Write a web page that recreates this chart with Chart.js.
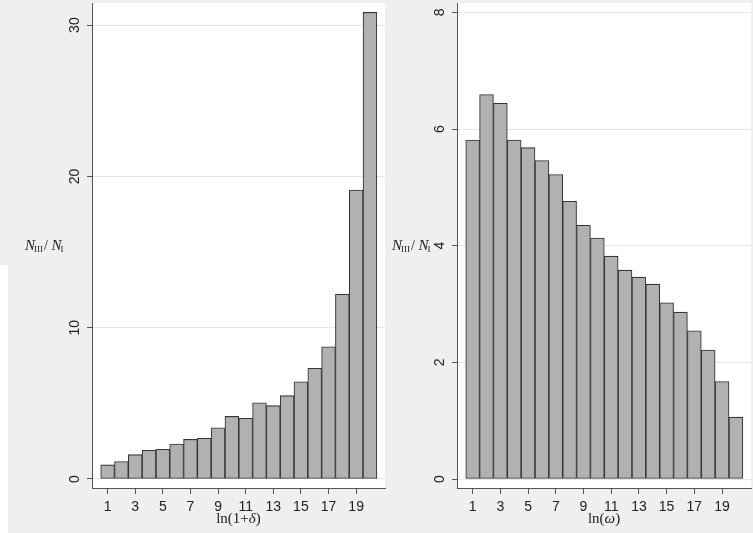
<!DOCTYPE html>
<html>
<head>
<meta charset="utf-8">
<script src="https://cdn.jsdelivr.net/npm/chart.js@4/dist/chart.umd.min.js"></script>
<style>
  html, body { margin: 0; padding: 0; background: #ffffff; }
  #wrap { position: relative; width: 753px; height: 533px; background: #efefef; overflow: hidden; }
  #strip { position: absolute; left: 0; top: 265px; width: 8px; height: 268px; background: #ffffff; }
  canvas { position: absolute; top: 0; }
  #left { left: 8px; }
  #right { left: 388px; }
</style>
</head>
<body>
<div id="wrap">
  <div id="strip"></div>
  <canvas id="left" width="380" height="533"></canvas>
  <canvas id="right" width="365" height="533"></canvas>
</div>
<script>
// Bins shared by both panels
const categories = [1, 2, 3, 4, 5, 6, 7, 8, 9, 10, 11, 12, 13, 14, 15, 16, 17, 18, 19, 20];
const xTickLabels = [1, 3, 5, 7, 9, 11, 13, 15, 17, 19];

// Ratio N_III / N_I by ln(1+delta)
const ratioByDelta = [0.93, 1.15, 1.61, 1.90, 1.96, 2.31, 2.62, 2.69, 3.39, 4.14,
                      4.01, 5.04, 4.85, 5.51, 6.43, 7.32, 8.74, 12.21, 19.10, 30.84];
const deltaYTicks = [0, 10, 20, 30];

// Ratio N_III / N_I by ln(omega)
const ratioByOmega = [5.81, 6.59, 6.44, 5.81, 5.68, 5.46, 5.22, 4.76, 4.35, 4.13,
                      3.82, 3.58, 3.46, 3.34, 3.02, 2.86, 2.54, 2.21, 1.67, 1.06];
const omegaYTicks = [0, 2, 4, 6, 8];

const AXIS = '#555555';
const TEXT = '#222222';
const SERIF = '"Liberation Serif", "DejaVu Serif", serif';
const SANS = '"Liberation Sans", Arial, sans-serif';

// Draws "N_III / N_I" with italic N and small upright subscripts
function drawRatioTitle(ctx, x, yMid) {
  ctx.save();
  ctx.fillStyle = TEXT;
  ctx.textAlign = 'left';
  ctx.textBaseline = 'alphabetic';
  const base = yMid + 5;
  let cx = x;
  const part = (txt, font, dy, gap) => {
    ctx.font = font;
    ctx.fillText(txt, cx, base + dy);
    cx += ctx.measureText(txt).width + (gap || 0);
  };
  part('N', 'italic 15px ' + SERIF, 0, -1);
  part('III', '9px ' + SERIF, 2, 1);
  part('/ ', '14px ' + SERIF, 0);
  part('N', 'italic 15px ' + SERIF, 0, -1);
  part('I', '9px ' + SERIF, 2);
  ctx.restore();
}

// Draws an x title like "ln(1+δ)" where the Greek letter is italic
function drawXTitle(ctx, cxMid, yMid, pre, greek, post) {
  ctx.save();
  ctx.fillStyle = TEXT;
  ctx.textBaseline = 'middle';
  ctx.textAlign = 'left';
  const up = '15px ' + SERIF, it = 'italic 15px ' + SERIF;
  ctx.font = up; const w1 = ctx.measureText(pre).width, w3 = ctx.measureText(post).width;
  ctx.font = it; const w2 = ctx.measureText(greek).width;
  let x = cxMid - (w1 + w2 + w3) / 2;
  ctx.font = up; ctx.fillText(pre, x, yMid); x += w1;
  ctx.font = it; ctx.fillText(greek, x, yMid); x += w2;
  ctx.font = up; ctx.fillText(post, x, yMid);
  ctx.restore();
}

const panelPlugin = {
  id: 'panel',
  beforeDraw(chart) {
    const { ctx, chartArea: a } = chart;
    ctx.save();
    ctx.fillStyle = '#ffffff';
    ctx.fillRect(a.left, a.top, a.right - a.left, a.bottom - a.top);
    ctx.restore();
  },
  afterDraw(chart, args, opts) {
    const { ctx, chartArea: a } = chart;
    const ys = chart.scales.y;
    // vertical tick labels reading bottom to top
    ctx.save();
    ctx.fillStyle = TEXT;
    ctx.font = '14px ' + SANS;
    ctx.textAlign = 'center';
    ctx.textBaseline = 'middle';
    ys.ticks.forEach(t => {
      const py = ys.getPixelForValue(t.value);
      ctx.save();
      ctx.translate(a.left - 17, py);
      ctx.rotate(-Math.PI / 2);
      ctx.fillText(String(t.value), 0, 0);
      ctx.restore();
    });
    ctx.restore();
    drawRatioTitle(ctx, opts.titleX, 245);
    drawXTitle(ctx, (a.left + a.right) / 2, 519, opts.pre, opts.greek, opts.post);
  }
};

function makePanel(canvasId, values, yTicks, yMin, yMax, yWidth, padRight, titleX, greek, pre) {
  return new Chart(document.getElementById(canvasId), {
    type: 'bar',
    data: {
      datasets: [{
        data: categories.map((c, i) => ({ x: c, y: values[i] })),
        backgroundColor: '#b1b1b1',
        borderColor: '#363636',
        borderWidth: 1.1,
        borderSkipped: false,
        barPercentage: 1,
        categoryPercentage: 1
      }]
    },
    options: {
      responsive: false,
      animation: false,
      layout: { padding: { top: 3, right: padRight, left: 0, bottom: 0 } },
      plugins: {
        legend: { display: false },
        tooltip: { enabled: false },
        panel: { titleX: titleX, pre: pre, greek: greek, post: ')' }
      },
      scales: {
        x: {
          type: 'linear',
          offset: false,
          min: -0.13,
          max: 21.09,
          afterBuildTicks: s => { s.ticks = xTickLabels.map(v => ({ value: v })); },
          afterFit: s => { s.height = 45; },
          grid: { offset: false, drawOnChartArea: false, drawTicks: true, tickLength: 6, tickColor: AXIS, lineWidth: 1 },
          border: { color: AXIS, width: 1 },
          ticks: { font: { family: SANS, size: 14 }, color: TEXT, padding: 5, maxRotation: 0, minRotation: 0, autoSkip: false }
        },
        y: {
          min: yMin,
          max: yMax,
          afterBuildTicks: s => { s.ticks = yTicks.map(v => ({ value: v })); },
          afterFit: s => { s.width = yWidth; },
          grid: { color: '#e7e7e7', tickColor: AXIS, tickLength: 5, lineWidth: 1 },
          border: { color: AXIS, width: 1 },
          ticks: { display: false }
        }
      }
    },
    plugins: [panelPlugin]
  });
}

makePanel('left', ratioByDelta, deltaYTicks, -0.595, 31.46, 84, 3, 17, 'δ', 'ln(1+');
makePanel('right', ratioByOmega, omegaYTicks, -0.154, 8.16, 69, 2, 4, 'ω', 'ln(');
</script>
</body>
</html>
